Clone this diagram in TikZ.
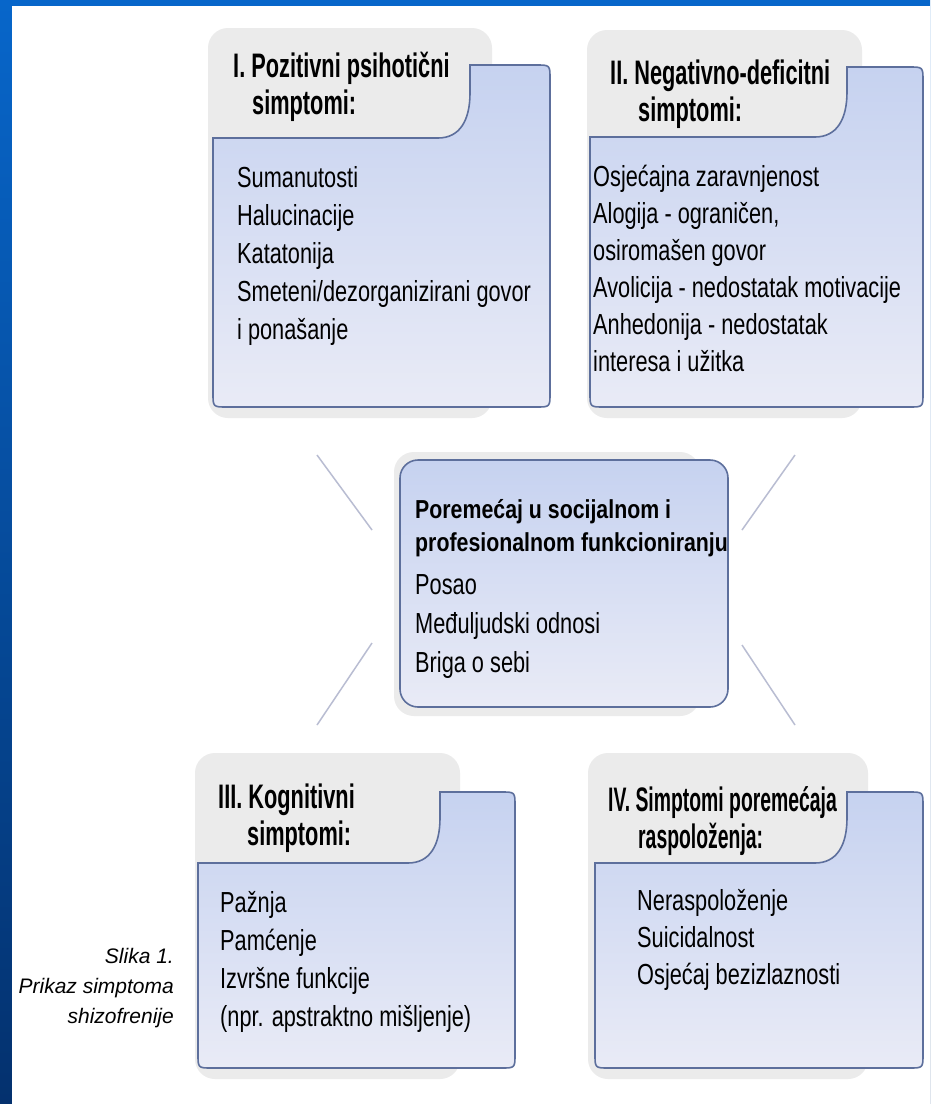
\documentclass[tikz,border=0pt]{standalone}
\usepackage{fontspec}
\setmainfont{Liberation Sans}
\newfontfamily\naslovfont[FakeStretch=0.64]{Liberation Sans}
\newfontfamily\uzinaslovfont[FakeStretch=0.57]{Liberation Sans}
\newfontfamily\sredinafont[FakeStretch=0.82]{Liberation Sans}
\newfontfamily\stavkafont[FakeStretch=0.75]{Liberation Sans}

\definecolor{pozadinagore}{HTML}{0766CA}
\definecolor{pozadinadolje}{HTML}{04316E}
\definecolor{kartasiva}{HTML}{EBEBEB}
\definecolor{tijelogore}{HTML}{C6D2F0}
\definecolor{tijelodolje}{HTML}{E9EBF6}
\definecolor{rub}{HTML}{5D6F9C}
\definecolor{crtica}{HTML}{B9BDD2}

\tikzset{
  karta/.style={fill=kartasiva, rounded corners=20pt},
  tijelo/.style={draw=rub, line width=1.6pt, top color=tijelogore, bottom color=tijelodolje},
  naslov/.style={anchor=north west, inner sep=0pt, align=left,
    font=\naslovfont\bfseries\fontsize{34}{37}\selectfont},
  stavka/.style={anchor=north west, inner sep=0pt, align=left,
    font=\stavkafont\fontsize{29}{38}\selectfont},
  veza/.style={draw=crtica, line width=1.5pt}
}

% kartica: #1-#3 siva podloga, #4 lijevo, #5 zaglavlje, #6 zarez, #7 vrh, #8 desno, #9 dno
\newcommand\kartica[9]{%
  \fill[karta] (#1,#2) rectangle (#3,#9+11);
  \shadedraw[tijelo] (#4,#5) -- (#6-32,#5) .. controls (#6-10,#5) and (#6,#5-18) .. (#6,#5-45)
    -- (#6,#7) -- (#8-14,#7) .. controls (#8,#7) .. (#8,#7+14)
    -- (#8,#9-14) .. controls (#8,#9) .. (#8-14,#9)
    -- (#4+14,#9) .. controls (#4,#9) .. (#4,#9-14) -- cycle;
}

\begin{document}
\begin{tikzpicture}[x=1pt, y=-1pt]
  \useasboundingbox (0,0) rectangle (930,1104);
  % pozadina
  \shade[top color=pozadinagore, bottom color=pozadinadolje] (0,0) rectangle (930,1104);
  \fill[white] (12,6) rectangle (930,1104);

  % kartice
  \kartica{208}{28}{492}{213}{138}{470}{65}{550}{407}
  \kartica{587}{30}{862}{590}{137}{847}{67}{923}{407}
  \kartica{195}{753}{460}{198}{863}{440}{792}{515}{1068}
  \kartica{588}{753}{868}{595}{863}{847}{792}{923}{1068}

  % sredina
  \fill[karta] (394,452) rectangle (700,716);
  \node[tijelo, rounded corners=18pt, minimum width=328pt, minimum height=247pt, inner sep=0pt]
    (drustvo) at (564,583.5) {};

  % crtice
  \coordinate (gl1) at (317,455); \coordinate (gl2) at (372,530);
  \coordinate (dl1) at (372,643); \coordinate (dl2) at (317,725);
  \coordinate (gd1) at (795,455); \coordinate (gd2) at (742,530);
  \coordinate (dd1) at (742,645); \coordinate (dd2) at (795,725);
  \draw[veza] (gl1) -- (gl2);
  \draw[veza] (dl1) -- (dl2);
  \draw[veza] (gd1) -- (gd2);
  \draw[veza] (dd1) -- (dd2);

  % I.
  \node[naslov] (pozitivni) at (233,52) {I. Pozitivni psihotični\\\hspace*{19pt}simptomi:};
  \node[stavka] (pozitivniLista) at (237,166) {Sumanutosti\\Halucinacije\\Katatonija\\Smeteni/dezorganizirani govor\\i ponašanje};

  % II.
  \node[naslov] (negativni) at (610,60) {II. Negativno-deficitni\\\hspace*{28pt}simptomi:};
  \node[stavka, font=\stavkafont\fontsize{29}{37}\selectfont] (negativniLista) at (593,165)
    {Osjećajna zaravnjenost\\Alogija - ograničen,\\osiromašen govor\\Avolicija - nedostatak motivacije\\Anhedonija - nedostatak\\interesa i užitka};

  % sredina
  \node[anchor=north west, inner sep=0pt, align=left, font=\sredinafont\bfseries\fontsize{26}{33}\selectfont]
    (drustvoNaslov) at (415,499) {Poremećaj u socijalnom i\\profesionalnom funkcioniranju};
  \node[stavka, font=\stavkafont\fontsize{29}{39}\selectfont] (drustvoLista) at (415,574)
    {Posao\\Međuljudski odnosi\\Briga o sebi};

  % III.
  \node[naslov] (kognitivni) at (218,784) {III. Kognitivni\\\hspace*{29pt}simptomi:};
  \node[stavka] (kognitivniLista) at (220,891) {Pažnja\\Pamćenje\\Izvršne funkcije\\(npr. apstraktno mišljenje)};

  % IV.
  \node[naslov, font=\uzinaslovfont\bfseries\fontsize{34}{37}\selectfont] (raspolozenje) at (608,786)
    {IV. Simptomi poremećaja\\\hspace*{30pt}raspoloženja:};
  \node[stavka, font=\stavkafont\fontsize{29}{37}\selectfont] (raspolozenjeLista) at (637,889)
    {Neraspoloženje\\Suicidalnost\\Osjećaj bezizlaznosti};

  % opis slike
  \node[anchor=north east, inner sep=0pt, align=right, font=\itshape\fontsize{21}{30}\selectfont]
    (opis) at (174,948) {Slika 1.\\Prikaz simptoma\\shizofrenije};
\end{tikzpicture}
\end{document}
